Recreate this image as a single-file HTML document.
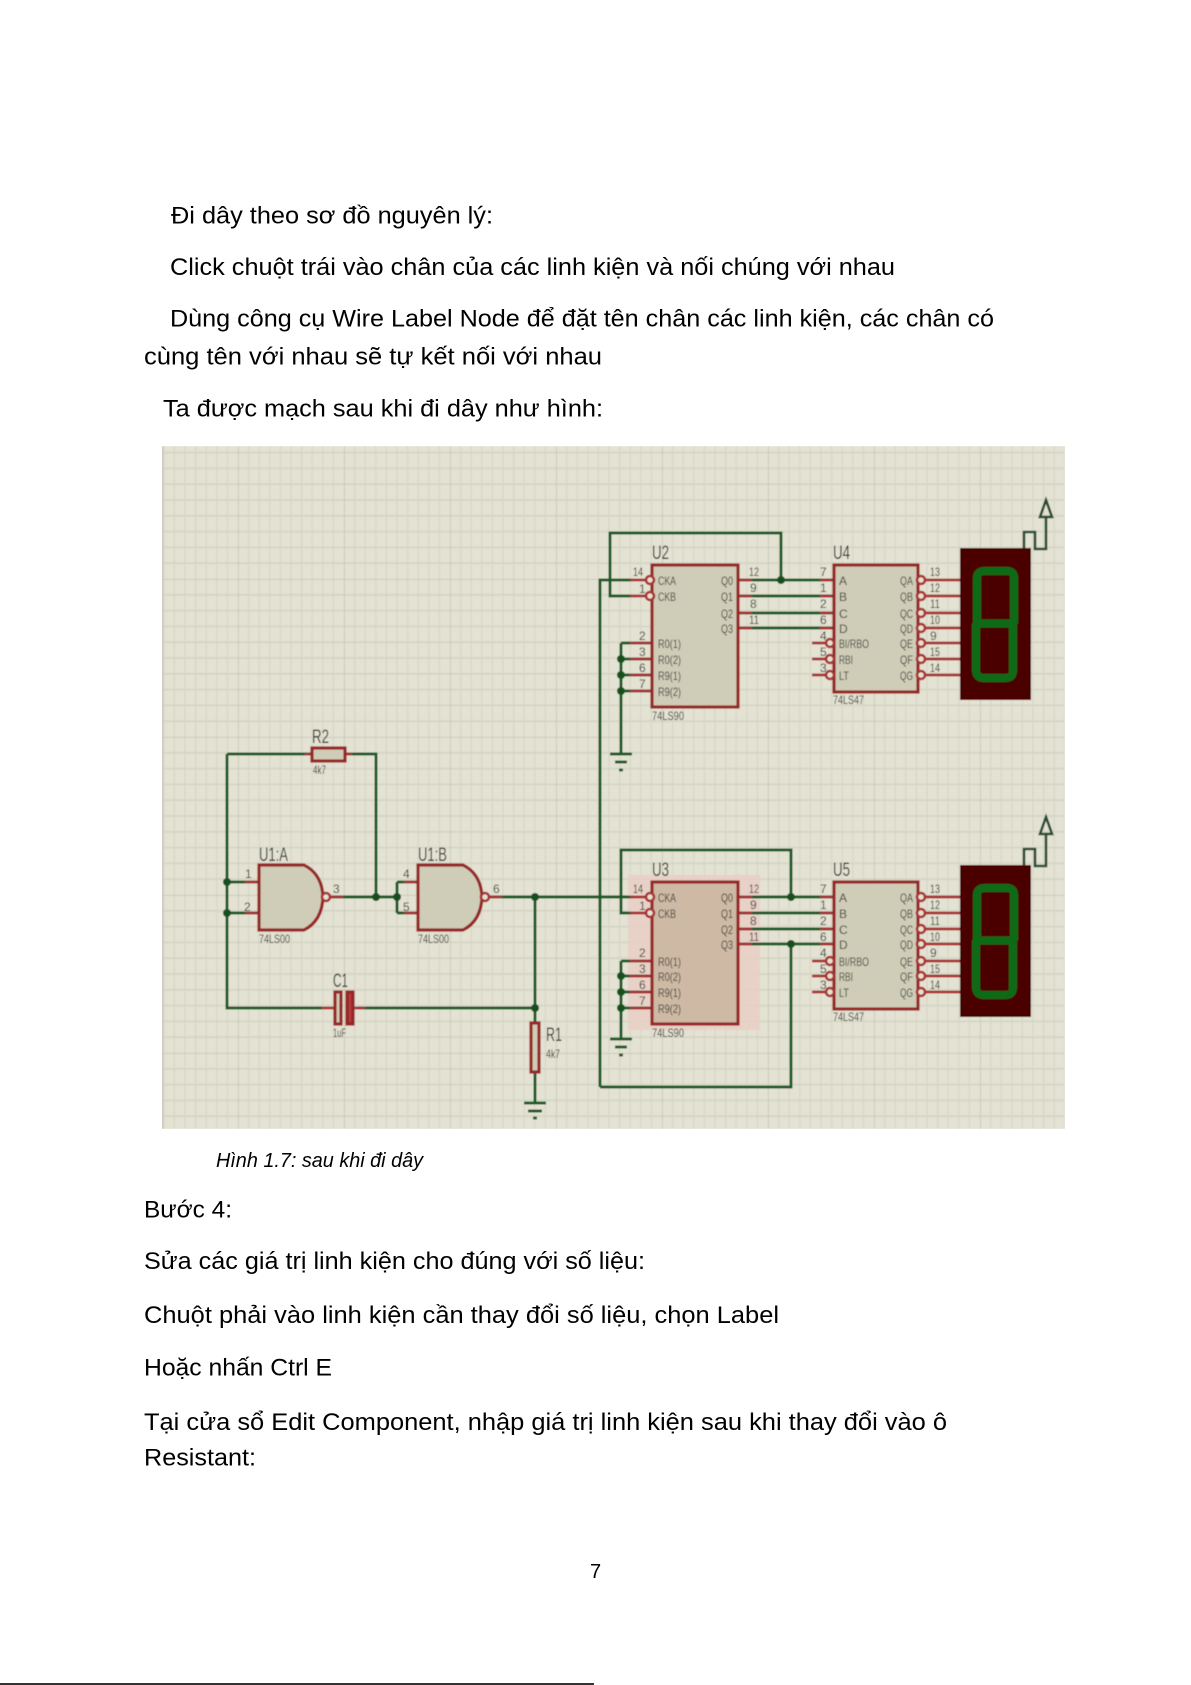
<!DOCTYPE html>
<html lang="vi">
<head>
<meta charset="utf-8">
<title>Hình 1.7</title>
<style>
html,body{margin:0;padding:0;background:#fff}
svg{display:block}
.t{font-family:"Liberation Sans",sans-serif;font-size:24px;fill:#000}
.c{font-family:"Liberation Sans",sans-serif;fill:#3c3c36}
.n{font-size:12px}
.l{font-size:12px}
.h{font-size:19px;fill:#33332e}
.w{fill:none;stroke:#1a5a26;stroke-width:3}
.r{fill:none;stroke:#a83232;stroke-width:2.8}
.b{stroke:#962626;stroke-width:3.2}
.d{fill:#12501c}
.s{fill:none;stroke:#0f6a18;stroke-width:8}
</style>
</head>
<body>
<svg xmlns="http://www.w3.org/2000/svg" width="1191" height="1685" viewBox="0 0 1191 1685">
<defs>
<pattern id="g" width="106" height="158" patternUnits="userSpaceOnUse" patternTransform="translate(238 737)">
<path d="M10.6 0V158M21.2 0V158M31.8 0V158M42.4 0V158M53 0V158M63.6 0V158M74.2 0V158M84.8 0V158M95.4 0V158" stroke="#d9d8c8" stroke-width="1.4" fill="none"/>
<path d="M0 15.8H106M0 31.6H106M0 47.4H106M0 63.2H106M0 79H106M0 94.8H106M0 110.6H106M0 126.4H106M0 142.2H106" stroke="#d6d5c5" stroke-width="1.8" fill="none"/>
<path d="M0 0V158M0 0H106" stroke="#c4c3b2" stroke-width="1.5" fill="none"/>
</pattern>
<filter id="bl" x="0" y="0" width="100%" height="100%"><feGaussianBlur stdDeviation="0.6"/></filter>
<clipPath id="cp"><rect x="162" y="446" width="903" height="683"/></clipPath>
</defs>

<rect width="1191" height="1685" fill="#fff"/>

<text class="t" x="171" y="223.5" textLength="322" lengthAdjust="spacingAndGlyphs">Đi dây theo sơ đồ nguyên lý:</text>
<text class="t" x="170" y="275" textLength="725" lengthAdjust="spacingAndGlyphs">Click chuột trái vào chân của các linh kiện và nối chúng với nhau</text>
<text class="t" x="170" y="326.5" textLength="824" lengthAdjust="spacingAndGlyphs">Dùng công cụ Wire Label Node để đặt tên chân các linh kiện, các chân có</text>
<text class="t" x="144" y="364.5" textLength="458" lengthAdjust="spacingAndGlyphs">cùng tên với nhau sẽ tự kết nối với nhau</text>
<text class="t" x="163" y="416.5" textLength="440" lengthAdjust="spacingAndGlyphs">Ta được mạch sau khi đi dây như hình:</text>

<g clip-path="url(#cp)"><g filter="url(#bl)">
<rect x="162" y="446" width="903" height="683" fill="#e3e2d3"/>
<rect x="162" y="446" width="903" height="683" fill="url(#g)"/>
<path d="M162.5 446V1129" stroke="#c4c3b3" stroke-width="1.5"/>

<!-- U3 halo -->
<rect x="628" y="875" width="132" height="155" fill="#e9cfc6" opacity=".85"/>

<!-- upper wires -->
<path class="w" d="M600 1087V580H632M781 580V533H610V596H632M738 580H834M738 596H834M738 613H834M738 628H834M621 643V754M621 643H652M621 659H652M621 675H652M621 691H652"/>
<path class="w" d="M610 754H632M615 762H627M619 770H623"/>
<!-- lower wires -->
<path class="w" d="M791 897V850H621V913H632M535 897H632M738 897H834M738 913H834M738 929H834M738 944H834M791 944V1087H600M621 961V1039M621 961H652M621 976H652M621 992H652M621 1008H652"/>
<path class="w" d="M610 1039H632M615 1047H627M619 1055H623"/>
<!-- left wires -->
<path class="w" d="M227 754V1008H322M227 754H312M345 754H376V897M227 882H259M227 913H259M330 897H397M397 882V913M397 882H418M397 913H418M490 897H535M535 897V1023M535 1072V1103M357 1008H535"/>
<path class="w" d="M524 1103H546M528 1111H542M533 1118H537"/>

<g class="d">
<circle cx="781" cy="580" r="4"/>
<circle cx="621" cy="659" r="4"/><circle cx="621" cy="675" r="4"/><circle cx="621" cy="691" r="4"/>
<circle cx="791" cy="897" r="4"/><circle cx="791" cy="944" r="4"/>
<circle cx="621" cy="976" r="4"/><circle cx="621" cy="992" r="4"/><circle cx="621" cy="1008" r="4"/>
<circle cx="227" cy="882" r="4"/><circle cx="227" cy="913" r="4"/>
<circle cx="376" cy="897" r="4"/><circle cx="397" cy="897" r="4"/>
<circle cx="535" cy="897" r="4"/><circle cx="535" cy="1008" r="4"/>
</g>

<!-- R2 -->
<path class="r" d="M305 754H312M345 754H352"/>
<rect class="b" x="312" y="748" width="33" height="13" fill="#cfcdb8"/>
<text class="c h" x="312" y="743" textLength="17" lengthAdjust="spacingAndGlyphs">R2</text>
<text class="c l" x="313" y="774" textLength="13" lengthAdjust="spacingAndGlyphs">4k7</text>

<!-- U1:A -->
<path class="r" d="M245 882H259M245 913H259M330 897H343"/>
<path class="b" d="M259 865H304Q322 874 323 897Q322 921 304 930H259Z" fill="#cfcdb8"/>
<circle cx="326" cy="897" r="4" fill="#e3e2d3" stroke="#a83232" stroke-width="2.6"/>
<text class="c h" x="259" y="861" textLength="29" lengthAdjust="spacingAndGlyphs">U1:A</text>
<text class="c l" x="259" y="943" textLength="31" lengthAdjust="spacingAndGlyphs">74LS00</text>
<text class="c n" x="245" y="878">1</text><text class="c n" x="244" y="911">2</text><text class="c n" x="333" y="893">3</text>

<!-- U1:B -->
<path class="r" d="M404 882H418M404 913H418M489 897H502"/>
<path class="b" d="M418 865H463Q481 874 482 897Q481 921 463 930H418Z" fill="#cfcdb8"/>
<circle cx="485" cy="897" r="4" fill="#e3e2d3" stroke="#a83232" stroke-width="2.6"/>
<text class="c h" x="418" y="861" textLength="29" lengthAdjust="spacingAndGlyphs">U1:B</text>
<text class="c l" x="418" y="943" textLength="31" lengthAdjust="spacingAndGlyphs">74LS00</text>
<text class="c n" x="403" y="878">4</text><text class="c n" x="403" y="911">5</text><text class="c n" x="493" y="893">6</text>

<!-- C1 -->
<path class="r" d="M322 1008H335M353 1008H365"/>
<rect class="b" x="335" y="992" width="6" height="32" fill="#cfcdb8"/>
<rect class="b" x="347" y="992" width="6" height="32" fill="#b53a3a"/>
<text class="c h" x="333" y="987" textLength="15" lengthAdjust="spacingAndGlyphs">C1</text>
<text class="c l" x="333" y="1037" textLength="13" lengthAdjust="spacingAndGlyphs">1uF</text>

<!-- R1 -->
<rect class="b" x="531" y="1023" width="8" height="49" fill="#cfcdb8"/>
<text class="c h" x="546" y="1041" textLength="16" lengthAdjust="spacingAndGlyphs">R1</text>
<text class="c l" x="546" y="1058" textLength="14" lengthAdjust="spacingAndGlyphs">4k7</text>

<!-- UPPER ROW -->
<g>
<path class="r" d="M630 580H647M630 596H647M630 643H652M630 659H652M630 675H652M630 691H652M738 580H752M738 596H752M738 613H752M738 628H752M820 580H834M820 596H834M820 613H834M820 628H834M812 643H826M812 659H826M812 675H826M926 580H961M926 596H961M926 613H961M926 628H961M926 643H961M926 659H961M926 675H961"/>
<rect class="b" x="652" y="565" width="86" height="142" fill="#cfcdb8"/>
<rect class="b" x="834" y="565" width="84" height="127" fill="#cfcdb8"/>
<g fill="#e3e2d3" stroke="#a83232" stroke-width="2.6">
<circle cx="650" cy="580" r="4"/><circle cx="650" cy="596" r="4"/>
<circle cx="830" cy="643" r="4"/><circle cx="830" cy="659" r="4"/><circle cx="830" cy="675" r="4"/>
<circle cx="921" cy="580" r="4"/><circle cx="921" cy="596" r="4"/><circle cx="921" cy="613" r="4"/><circle cx="921" cy="628" r="4"/><circle cx="921" cy="643" r="4"/><circle cx="921" cy="659" r="4"/><circle cx="921" cy="675" r="4"/>
</g>
<text class="c h" x="652" y="559" textLength="17" lengthAdjust="spacingAndGlyphs">U2</text>
<text class="c h" x="833" y="559" textLength="17" lengthAdjust="spacingAndGlyphs">U4</text>
<text class="c l" x="658" y="585" textLength="18" lengthAdjust="spacingAndGlyphs">CKA</text>
<text class="c l" x="658" y="601" textLength="18" lengthAdjust="spacingAndGlyphs">CKB</text>
<text class="c l" x="658" y="648" textLength="23" lengthAdjust="spacingAndGlyphs">R0(1)</text>
<text class="c l" x="658" y="664" textLength="23" lengthAdjust="spacingAndGlyphs">R0(2)</text>
<text class="c l" x="658" y="680" textLength="23" lengthAdjust="spacingAndGlyphs">R9(1)</text>
<text class="c l" x="658" y="696" textLength="23" lengthAdjust="spacingAndGlyphs">R9(2)</text>
<text class="c l" x="721" y="585" textLength="12" lengthAdjust="spacingAndGlyphs">Q0</text>
<text class="c l" x="721" y="601" textLength="12" lengthAdjust="spacingAndGlyphs">Q1</text>
<text class="c l" x="721" y="618" textLength="12" lengthAdjust="spacingAndGlyphs">Q2</text>
<text class="c l" x="721" y="633" textLength="12" lengthAdjust="spacingAndGlyphs">Q3</text>
<text class="c l" x="652" y="720" textLength="32" lengthAdjust="spacingAndGlyphs">74LS90</text>
<text class="c n" x="633" y="576" textLength="10" lengthAdjust="spacingAndGlyphs">14</text><text class="c n" x="639" y="593">1</text>
<text class="c n" x="639" y="640">2</text><text class="c n" x="639" y="656">3</text><text class="c n" x="639" y="672">6</text><text class="c n" x="639" y="688">7</text>
<text class="c n" x="749" y="576" textLength="10" lengthAdjust="spacingAndGlyphs">12</text><text class="c n" x="750" y="592">9</text><text class="c n" x="750" y="608">8</text><text class="c n" x="749" y="624" textLength="10" lengthAdjust="spacingAndGlyphs">11</text>
<text class="c n" x="820" y="576">7</text><text class="c n" x="820" y="592">1</text><text class="c n" x="820" y="608">2</text><text class="c n" x="820" y="624">6</text><text class="c n" x="820" y="640">4</text><text class="c n" x="820" y="656">5</text><text class="c n" x="820" y="672">3</text>
<text class="c l" x="839" y="585">A</text><text class="c l" x="839" y="601">B</text><text class="c l" x="839" y="618">C</text><text class="c l" x="839" y="633">D</text>
<text class="c l" x="839" y="648" textLength="30" lengthAdjust="spacingAndGlyphs">BI/RBO</text>
<text class="c l" x="839" y="664" textLength="14" lengthAdjust="spacingAndGlyphs">RBI</text>
<text class="c l" x="839" y="680" textLength="10" lengthAdjust="spacingAndGlyphs">LT</text>
<text class="c l" x="900" y="585" textLength="13" lengthAdjust="spacingAndGlyphs">QA</text>
<text class="c l" x="900" y="601" textLength="13" lengthAdjust="spacingAndGlyphs">QB</text>
<text class="c l" x="900" y="618" textLength="13" lengthAdjust="spacingAndGlyphs">QC</text>
<text class="c l" x="900" y="633" textLength="13" lengthAdjust="spacingAndGlyphs">QD</text>
<text class="c l" x="900" y="648" textLength="13" lengthAdjust="spacingAndGlyphs">QE</text>
<text class="c l" x="900" y="664" textLength="13" lengthAdjust="spacingAndGlyphs">QF</text>
<text class="c l" x="900" y="680" textLength="13" lengthAdjust="spacingAndGlyphs">QG</text>
<text class="c n" x="930" y="576" textLength="10" lengthAdjust="spacingAndGlyphs">13</text><text class="c n" x="930" y="592" textLength="10" lengthAdjust="spacingAndGlyphs">12</text><text class="c n" x="930" y="608" textLength="10" lengthAdjust="spacingAndGlyphs">11</text><text class="c n" x="930" y="624" textLength="10" lengthAdjust="spacingAndGlyphs">10</text><text class="c n" x="930" y="640">9</text><text class="c n" x="930" y="656" textLength="10" lengthAdjust="spacingAndGlyphs">15</text><text class="c n" x="930" y="672" textLength="10" lengthAdjust="spacingAndGlyphs">14</text>
<text class="c l" x="833" y="704" textLength="31" lengthAdjust="spacingAndGlyphs">74LS47</text>
<rect x="960" y="548" width="71" height="152" fill="#4c0306"/>
<path class="s" d="M977 623.5V578Q977 571 985 571H1007Q1014 571 1014 578V623.5M977 623.5H1014M976 623.5V670Q976 678 984 678H1006Q1013 678 1013 670V623.5"/>
<path d="M1024 548V532H1035V549H1046V517M1040 517H1052L1046 500Z" fill="none" stroke="#2a4a30" stroke-width="2.6"/>
</g>

<!-- LOWER ROW -->
<g>
<path class="r" d="M630 897H647M630 913H647M630 961H652M630 976H652M630 992H652M630 1008H652M738 897H752M738 913H752M738 929H752M738 944H752M820 897H834M820 913H834M820 929H834M820 944H834M812 961H826M812 976H826M812 992H826M926 897H961M926 913H961M926 929H961M926 944H961M926 961H961M926 976H961M926 992H961"/>
<rect class="b" x="652" y="882" width="86" height="142" fill="#cdb9a4"/>
<rect class="b" x="834" y="882" width="84" height="127" fill="#cfcdb8"/>
<g fill="#e3e2d3" stroke="#a83232" stroke-width="2.6">
<circle cx="650" cy="897" r="4"/><circle cx="650" cy="913" r="4"/>
<circle cx="830" cy="961" r="4"/><circle cx="830" cy="976" r="4"/><circle cx="830" cy="992" r="4"/>
<circle cx="921" cy="897" r="4"/><circle cx="921" cy="913" r="4"/><circle cx="921" cy="929" r="4"/><circle cx="921" cy="944" r="4"/><circle cx="921" cy="961" r="4"/><circle cx="921" cy="976" r="4"/><circle cx="921" cy="992" r="4"/>
</g>
<text class="c h" x="652" y="876" textLength="17" lengthAdjust="spacingAndGlyphs">U3</text>
<text class="c h" x="833" y="876" textLength="17" lengthAdjust="spacingAndGlyphs">U5</text>
<text class="c l" x="658" y="902" textLength="18" lengthAdjust="spacingAndGlyphs">CKA</text>
<text class="c l" x="658" y="918" textLength="18" lengthAdjust="spacingAndGlyphs">CKB</text>
<text class="c l" x="658" y="966" textLength="23" lengthAdjust="spacingAndGlyphs">R0(1)</text>
<text class="c l" x="658" y="981" textLength="23" lengthAdjust="spacingAndGlyphs">R0(2)</text>
<text class="c l" x="658" y="997" textLength="23" lengthAdjust="spacingAndGlyphs">R9(1)</text>
<text class="c l" x="658" y="1013" textLength="23" lengthAdjust="spacingAndGlyphs">R9(2)</text>
<text class="c l" x="721" y="902" textLength="12" lengthAdjust="spacingAndGlyphs">Q0</text>
<text class="c l" x="721" y="918" textLength="12" lengthAdjust="spacingAndGlyphs">Q1</text>
<text class="c l" x="721" y="934" textLength="12" lengthAdjust="spacingAndGlyphs">Q2</text>
<text class="c l" x="721" y="949" textLength="12" lengthAdjust="spacingAndGlyphs">Q3</text>
<text class="c l" x="652" y="1037" textLength="32" lengthAdjust="spacingAndGlyphs">74LS90</text>
<text class="c n" x="633" y="893" textLength="10" lengthAdjust="spacingAndGlyphs">14</text><text class="c n" x="639" y="910">1</text>
<text class="c n" x="639" y="957">2</text><text class="c n" x="639" y="973">3</text><text class="c n" x="639" y="989">6</text><text class="c n" x="639" y="1005">7</text>
<text class="c n" x="749" y="893" textLength="10" lengthAdjust="spacingAndGlyphs">12</text><text class="c n" x="750" y="909">9</text><text class="c n" x="750" y="925">8</text><text class="c n" x="749" y="941" textLength="10" lengthAdjust="spacingAndGlyphs">11</text>
<text class="c n" x="820" y="893">7</text><text class="c n" x="820" y="909">1</text><text class="c n" x="820" y="925">2</text><text class="c n" x="820" y="941">6</text><text class="c n" x="820" y="957">4</text><text class="c n" x="820" y="973">5</text><text class="c n" x="820" y="989">3</text>
<text class="c l" x="839" y="902">A</text><text class="c l" x="839" y="918">B</text><text class="c l" x="839" y="934">C</text><text class="c l" x="839" y="949">D</text>
<text class="c l" x="839" y="966" textLength="30" lengthAdjust="spacingAndGlyphs">BI/RBO</text>
<text class="c l" x="839" y="981" textLength="14" lengthAdjust="spacingAndGlyphs">RBI</text>
<text class="c l" x="839" y="997" textLength="10" lengthAdjust="spacingAndGlyphs">LT</text>
<text class="c l" x="900" y="902" textLength="13" lengthAdjust="spacingAndGlyphs">QA</text>
<text class="c l" x="900" y="918" textLength="13" lengthAdjust="spacingAndGlyphs">QB</text>
<text class="c l" x="900" y="934" textLength="13" lengthAdjust="spacingAndGlyphs">QC</text>
<text class="c l" x="900" y="949" textLength="13" lengthAdjust="spacingAndGlyphs">QD</text>
<text class="c l" x="900" y="966" textLength="13" lengthAdjust="spacingAndGlyphs">QE</text>
<text class="c l" x="900" y="981" textLength="13" lengthAdjust="spacingAndGlyphs">QF</text>
<text class="c l" x="900" y="997" textLength="13" lengthAdjust="spacingAndGlyphs">QG</text>
<text class="c n" x="930" y="893" textLength="10" lengthAdjust="spacingAndGlyphs">13</text><text class="c n" x="930" y="909" textLength="10" lengthAdjust="spacingAndGlyphs">12</text><text class="c n" x="930" y="925" textLength="10" lengthAdjust="spacingAndGlyphs">11</text><text class="c n" x="930" y="941" textLength="10" lengthAdjust="spacingAndGlyphs">10</text><text class="c n" x="930" y="957">9</text><text class="c n" x="930" y="973" textLength="10" lengthAdjust="spacingAndGlyphs">15</text><text class="c n" x="930" y="989" textLength="10" lengthAdjust="spacingAndGlyphs">14</text>
<text class="c l" x="833" y="1021" textLength="31" lengthAdjust="spacingAndGlyphs">74LS47</text>
<rect x="960" y="865" width="71" height="152" fill="#4c0306"/>
<path class="s" d="M977 940.5V895Q977 888 985 888H1007Q1014 888 1014 895V940.5M977 940.5H1014M976 940.5V987Q976 995 984 995H1006Q1013 995 1013 987V940.5"/>
<path d="M1024 865V849H1035V866H1046V834M1040 834H1052L1046 817Z" fill="none" stroke="#2a4a30" stroke-width="2.6"/>
</g>
</g></g>

<text class="t" x="216" y="1167" style="font-size:20px;font-style:italic" textLength="207" lengthAdjust="spacingAndGlyphs">Hình 1.7: sau khi đi dây</text>
<text class="t" x="144" y="1217.5" textLength="88" lengthAdjust="spacingAndGlyphs">Bước 4:</text>
<text class="t" x="144" y="1269" textLength="501" lengthAdjust="spacingAndGlyphs">Sửa các giá trị linh kiện cho đúng với số liệu:</text>
<text class="t" x="144" y="1323" textLength="635" lengthAdjust="spacingAndGlyphs">Chuột phải vào linh kiện cần thay đổi số liệu, chọn Label</text>
<text class="t" x="144" y="1375.5" textLength="188" lengthAdjust="spacingAndGlyphs">Hoặc nhấn Ctrl E</text>
<text class="t" x="144" y="1430" textLength="803" lengthAdjust="spacingAndGlyphs">Tại cửa sổ Edit Component, nhập giá trị linh kiện sau khi thay đổi vào ô</text>
<text class="t" x="144" y="1465.5" textLength="112" lengthAdjust="spacingAndGlyphs">Resistant:</text>
<text class="t" x="590" y="1578" style="font-size:20px">7</text>
<rect x="0" y="1683" width="594" height="2" fill="#333"/>
</svg>
</body>
</html>
